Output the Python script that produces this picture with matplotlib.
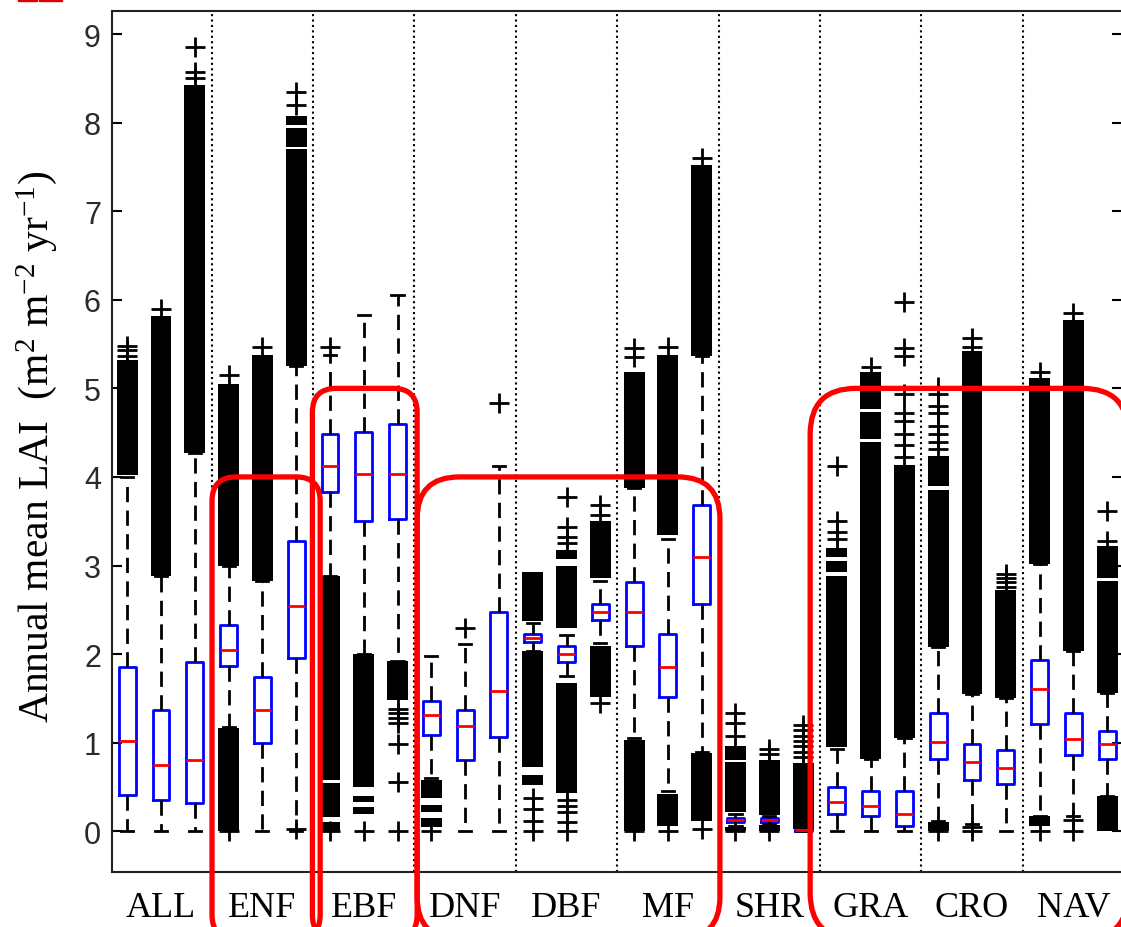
import matplotlib
matplotlib.use("Agg")
import matplotlib.pyplot as plt
from matplotlib.lines import Line2D
from matplotlib.patches import FancyBboxPatch, Rectangle

# land-cover groups, three boxes each
groups = ["ALL", "ENF", "EBF", "DNF", "DBF", "MF", "SHR", "GRA", "CRO", "NAV"]

q1 = [0.41, 0.35, 0.32, 1.87, 1.00, 1.96, 3.83, 3.50, 3.52, 1.09,
      0.80, 1.06, 2.14, 1.91, 2.38, 2.09, 1.52, 2.56, 0.11, 0.11,
      0.00, 0.19, 0.17, 0.06, 0.82, 0.58, 0.53, 1.21, 0.86, 0.82]
med = [1.02, 0.75, 0.80, 2.05, 1.37, 2.54, 4.12, 4.03, 4.03, 1.31,
       1.19, 1.58, 2.18, 2.00, 2.48, 2.48, 1.85, 3.10, 0.13, 0.13,
       0.01, 0.33, 0.29, 0.20, 1.01, 0.78, 0.71, 1.61, 1.04, 0.98]
q3 = [1.85, 1.37, 1.91, 2.33, 1.74, 3.28, 4.48, 4.51, 4.60, 1.47,
      1.37, 2.48, 2.23, 2.09, 2.56, 2.81, 2.23, 3.68, 0.15, 0.15,
      0.02, 0.50, 0.45, 0.46, 1.33, 0.98, 0.92, 1.93, 1.33, 1.13]
whis_lo = [0.00, 0.00, 0.00, 1.18, 0.00, 0.00, 2.88, 2.00, 1.92, 0.60,
           0.00, 0.00, 2.03, 1.75, 2.12, 1.05, 0.45, 0.90, 0.06, 0.08,
           0.00, 0.00, 0.00, 0.00, 0.12, 0.08, 0.00, 0.17, 0.17, 0.40]
whis_hi = [4.00, 2.88, 4.27, 3.00, 2.82, 5.25, 5.38, 5.83, 6.05, 1.98,
           2.11, 4.12, 2.35, 2.22, 2.83, 3.87, 3.30, 5.36, 0.20, 0.17,
           0.05, 0.93, 0.82, 1.05, 2.08, 1.55, 1.50, 3.02, 2.04, 1.56]

# single outliers
fliers = [
    [5.36, 5.43, 5.48], [5.90], [8.50, 8.57, 8.85],
    [5.15, 0.0], [5.47], [8.20, 8.35, 0.02],
    [5.47, 0.0], [0.0], [1.38, 1.33, 1.28, 1.22, 0.98, 0.56, 0.0],
    [0.0], [2.30], [4.83],
    [0.38, 0.25, 0.12, 0.0], [3.25, 3.32, 3.43, 3.77, 0.35, 0.28, 0.22, 0.10, 0.0],
    [3.57, 3.68, 1.45],
    [5.35, 5.45, 0.0], [5.47, 0.0], [7.60, 0.02],
    [1.08, 1.22, 1.33, 0.0], [0.87, 0.93, 0.0],
    [0.84, 0.90, 0.96, 1.02, 1.08, 1.14, 1.20],
    [3.30, 3.38, 3.50, 4.12], [5.24],
    [4.23, 4.36, 4.49, 4.63, 4.72, 4.94, 5.37, 5.45, 5.98],
    [4.32, 4.40, 4.49, 4.58, 4.72, 4.80, 4.94, 5.02, 0.0],
    [5.47, 5.57, 0.05, 0.0], [2.76, 2.81, 2.86, 2.90],
    [5.18, 0.0], [5.85, 0.13, 0.0], [3.28, 3.62],
]

# ranges packed so densely with outliers that they print solid black
bands = [
    [(4.02, 5.32)], [(2.88, 5.82)], [(4.27, 8.42)],
    [(3.00, 5.05), (0.0, 1.17)], [(2.82, 5.38)],
    [(5.25, 7.70), (7.73, 7.94), (7.97, 8.08)],
    [(0.58, 2.88), (0.16, 0.54), (0.0, 0.10)],
    [(0.50, 2.00), (0.33, 0.40), (0.20, 0.27)], [(1.48, 1.92)],
    [(0.38, 0.58), (0.22, 0.30), (0.05, 0.15)], [], [],
    [(2.37, 2.93), (0.72, 2.03), (0.52, 0.63)],
    [(2.29, 2.99), (3.07, 3.17), (0.43, 1.67)],
    [(2.86, 3.50), (1.51, 2.09)],
    [(3.87, 5.18), (0.0, 1.03)], [(3.34, 5.38), (0.06, 0.42)],
    [(5.36, 7.52), (0.12, 0.88)],
    [(0.22, 0.78), (0.80, 0.96), (0.0, 0.05)], [(0.18, 0.80), (0.0, 0.07)],
    [(0.02, 0.77)],
    [(0.95, 2.88), (2.93, 3.05), (3.10, 3.20)],
    [(0.82, 4.40), (4.43, 4.73), (4.77, 5.19)], [(1.05, 4.13)],
    [(2.08, 3.85), (3.90, 4.24), (0.0, 0.10)], [(1.55, 5.42)], [(1.50, 2.72)],
    [(3.02, 5.12), (0.06, 0.17)], [(2.04, 5.77)],
    [(1.56, 2.82), (2.86, 3.22), (0.0, 0.40)],
]

# red highlight frames: (left box pos, right box pos, top LAI, corner px)
highlights = [(3.51, 6.71, 4.0, 24), (6.48, 9.58, 5.0, 24),
              (9.58, 18.54, 4.0, 42), (21.21, 30.62, 5.0, 46)]

yticks = list(range(10))


def main():
    plt.rcParams["mathtext.fontset"] = "custom"
    plt.rcParams["mathtext.rm"] = "Liberation Serif"
    plt.rcParams["mathtext.it"] = "Liberation Serif:italic"

    fig = plt.figure(figsize=(11.21, 9.28), dpi=100)
    ax = fig.add_axes([112 / 1121, 55 / 928, 1010.4 / 1121, 861 / 928])

    n = len(q1)
    pos = list(range(1, n + 1))
    stats = []
    for i in range(n):
        stats.append(dict(q1=q1[i], med=med[i], q3=q3[i], whislo=whis_lo[i],
                          whishi=whis_hi[i], fliers=fliers[i]))

    for i in range(n):
        for lo, hi in bands[i]:
            ax.bar(pos[i], hi - lo, bottom=lo, width=0.62, color="k",
                   zorder=1.5)

    ax.bxp(stats, positions=pos, widths=0.5, capwidths=0.36,
           manage_ticks=False,
           boxprops=dict(color="#0000ff", lw=2.0),
           medianprops=dict(color="#ff0000", lw=2.0),
           whiskerprops=dict(color="k", lw=2.0, linestyle=(0, (5.5, 3))),
           capprops=dict(color="k", lw=2.0),
           flierprops=dict(marker="+", markeredgecolor="k",
                           markersize=15, markeredgewidth=2.0))

    for k in range(1, len(groups)):
        ax.axvline(3 * k + 0.5, color="k", lw=1.5, linestyle=(0, (1, 1.6)),
                   zorder=1)

    ax.set_xlim(0.55, 30.45)
    ax.set_ylim(-0.46, 9.26)
    ax.set_xticks([3 * k + 2 for k in range(len(groups))])
    ax.set_xticklabels(groups, family="Liberation Serif", fontsize=26)
    ax.set_yticks(yticks)
    ax.set_yticklabels([str(v) for v in yticks], family="Liberation Sans",
                       fontsize=22, color="#2a2a2a")
    ax.tick_params(axis="x", length=0, pad=14)
    ax.tick_params(axis="y", direction="in", length=7, width=1.5,
                   right=True, pad=8)
    for side in ["left", "top", "bottom"]:
        ax.spines[side].set_linewidth(1.5)
        ax.spines[side].set_color("#222222")
    ax.spines["right"].set_visible(False)

    fig.text(37 / 1121, 1 - 447 / 928,
             r"Annual mean LAI  (m$^{2}$ m$^{-2}$ yr$^{-1}$)",
             rotation=90, ha="center", va="center",
             family="Liberation Serif", fontsize=30)

    # red frames: build the rounded box in pixel space, flatten the curves
    # to a polyline (Agg distorts curves that run off the canvas)
    for x0, x1, top, rad in highlights:
        px0, py0 = ax.transData.transform((x0, top))
        px1, _ = ax.transData.transform((x1, top))
        py_bot = -12
        frame = FancyBboxPatch(
            (px0, py_bot), px1 - px0, py0 - py_bot,
            boxstyle="round,pad=0,rounding_size=%d" % rad)
        for poly in frame.get_path().to_polygons(closed_only=False):
            fig.lines.append(Line2D(poly[:, 0], poly[:, 1], transform=None,
                                    color="#ff0000", lw=3.8,
                                    solid_joinstyle="round", figure=fig,
                                    zorder=5))

    # cropped red marks at the top-left corner
    fig.patches.append(Rectangle((18, 926), 19, 3, color="#dd0000",
                                 transform=None, figure=fig))
    fig.patches.append(Rectangle((39, 926), 23, 3, color="#dd0000",
                                 transform=None, figure=fig))

    fig.savefig("out.png", dpi=100)


if __name__ == "__main__":
    main()
